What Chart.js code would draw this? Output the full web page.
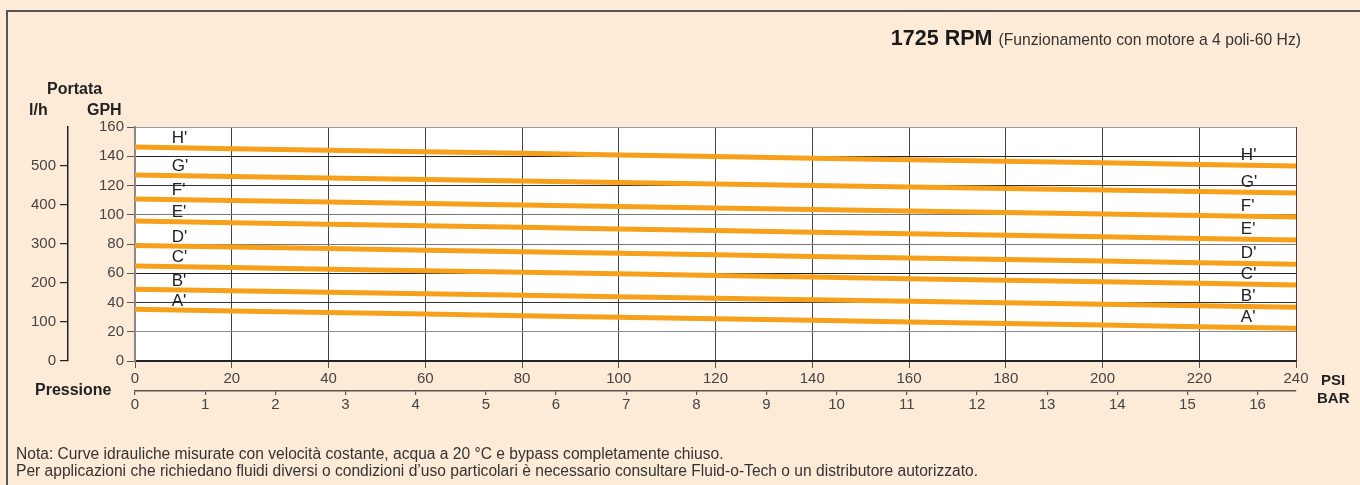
<!DOCTYPE html>
<html>
<head>
<meta charset="utf-8">
<script src="https://cdn.jsdelivr.net/npm/chart.js@4.4.1/dist/chart.umd.min.js"></script>
<style>
  html, body { margin: 0; padding: 0; background: #FDEBD8; }
  #wrap { width: 1360px; height: 485px; }
</style>
</head>
<body>
<div id="wrap"><canvas id="c" width="1360" height="485"></canvas></div>
<script>
// ---- data ----
const psiPoints = [0, 40, 80, 120, 160, 200, 240];
const seriesNames = ["H'", "G'", "F'", "E'", "D'", "C'", "B'", "A'"];
const seriesH = [146.3, 144.1, 142.0, 139.8, 137.6, 135.5, 133.3];
const seriesG = [127.2, 125.2, 123.1, 121.1, 119.0, 117.0, 114.9];
const seriesF = [110.8, 108.8, 106.7, 104.7, 102.6, 100.5, 98.4];
const seriesE = [95.7, 93.5, 91.4, 89.2, 87.0, 84.9, 82.7];
const seriesD = [79.0, 76.9, 74.7, 72.6, 70.4, 68.3, 66.1];
const seriesC = [65.0, 62.8, 60.7, 58.5, 56.3, 54.2, 52.0];
const seriesB = [49.0, 47.0, 44.9, 42.9, 40.8, 38.8, 36.7];
const seriesA = [35.3, 33.2, 31.0, 28.9, 26.7, 24.6, 22.4];
const allSeries = [seriesH, seriesG, seriesF, seriesE, seriesD, seriesC, seriesB, seriesA];
const gphTicks = [0, 20, 40, 60, 80, 100, 120, 140, 160];
const lhTicks = [0, 100, 200, 300, 400, 500];
const psiTicks = [0, 20, 40, 60, 80, 100, 120, 140, 160, 180, 200, 220, 240];
const barTicks = [0, 1, 2, 3, 4, 5, 6, 7, 8, 9, 10, 11, 12, 13, 14, 15, 16];
const PSI_PER_BAR = 14.5038;
const titleBold = "1725 RPM";
const titleRest = "(Funzionamento con motore a 4 poli-60 Hz)";
const note1 = "Nota: Curve idrauliche misurate con velocità costante, acqua a 20 °C e bypass completamente chiuso.";
const note2 = "Per applicazioni che richiedano fluidi diversi o condizioni d’uso particolari è necessario consultare Fluid-o-Tech o un distributore autorizzato.";

const FONT = "'Liberation Sans', Arial, Helvetica, sans-serif";
const BG = '#FDEBD8';
const ORANGE = '#F7A01B';

const datasets = allSeries.map((s, i) => ({
  label: seriesNames[i],
  data: psiPoints.map((p, j) => ({ x: p, y: s[j] })),
  borderColor: ORANGE,
  borderWidth: 5,
  pointRadius: 0,
  tension: 0.2,
  xAxisID: 'x',
  yAxisID: 'y'
}));

const gridColorsY = { 0: '#222', 20: '#8a8a8a', 40: '#333', 60: '#222', 80: '#777', 100: '#777', 120: '#333', 140: '#222', 160: '#999' };

function interp(series, psi) {
  for (let j = 0; j < psiPoints.length - 1; j++) {
    if (psi >= psiPoints[j] && psi <= psiPoints[j + 1]) {
      const t = (psi - psiPoints[j]) / (psiPoints[j + 1] - psiPoints[j]);
      return series[j] + t * (series[j + 1] - series[j]);
    }
  }
  return series[series.length - 1];
}

const decor = {
  id: 'decor',
  beforeDraw(chart) {
    const ctx = chart.ctx;
    const a = chart.chartArea;
    ctx.save();
    ctx.fillStyle = BG;
    ctx.fillRect(0, 0, chart.width, chart.height);
    ctx.strokeStyle = '#555';
    ctx.lineWidth = 2;
    ctx.beginPath();
    ctx.moveTo(7, 485);
    ctx.lineTo(7, 11);
    ctx.lineTo(1360, 11);
    ctx.stroke();
    ctx.fillStyle = '#ffffff';
    ctx.fillRect(a.left, a.top, a.right - a.left, a.bottom - a.top);
    ctx.restore();
  },
  afterDatasetsDraw(chart) {
    const ctx = chart.ctx;
    const xs = chart.scales.x, ys = chart.scales.y;
    ctx.save();
    ctx.fillStyle = '#222';
    ctx.font = '17px ' + FONT;
    ctx.textBaseline = 'middle';
    ctx.textAlign = 'left';
    allSeries.forEach((s, i) => {
      const pl = 7.6, pr = 228.6;
      ctx.fillText(seriesNames[i], xs.getPixelForValue(pl), ys.getPixelForValue(interp(s, pl + 2)) - 9);
      ctx.fillText(seriesNames[i], xs.getPixelForValue(pr), ys.getPixelForValue(interp(s, pr + 2)) - 10);
    });
    ctx.restore();
  },
  afterDraw(chart) {
    const ctx = chart.ctx;
    ctx.save();
    ctx.textBaseline = 'alphabetic';
    ctx.fillStyle = '#333';
    ctx.font = '15.7px ' + FONT;
    ctx.textAlign = 'right';
    ctx.fillText(titleRest, 1301, 45);
    const wRest = ctx.measureText(titleRest).width;
    ctx.fillStyle = '#1a1a1a';
    ctx.font = 'bold 21.5px ' + FONT;
    ctx.fillText(titleBold, 1301 - wRest - 6, 45);
    ctx.fillStyle = '#222';
    ctx.textBaseline = 'middle';
    ctx.font = 'bold 16px ' + FONT;
    ctx.textAlign = 'left';
    ctx.fillText('Portata', 47, 90);
    ctx.fillText('GPH', 87, 111);
    ctx.fillText('l/h', 29, 111);
    ctx.fillText('Pressione', 35, 391);
    ctx.font = 'bold 15px ' + FONT;
    ctx.fillText('PSI', 1321, 381);
    ctx.fillText('BAR', 1317, 399);
    ctx.fillStyle = '#333';
    ctx.font = '15.6px ' + FONT;
    ctx.textBaseline = 'alphabetic';
    ctx.fillText(note1, 16, 459);
    ctx.fillText(note2, 16, 476);
    ctx.restore();
  }
};

new Chart(document.getElementById('c'), {
  type: 'line',
  data: { datasets },
  options: {
    responsive: false,
    animation: false,
    devicePixelRatio: 1,
    layout: { padding: { left: 10, top: 127, right: 64, bottom: 59 } },
    plugins: { legend: { display: false }, tooltip: { enabled: false }, title: { display: false } },
    scales: {
      x: {
        type: 'linear', position: 'bottom', min: 0, max: 240, weight: 0,
        afterBuildTicks: (s) => { s.ticks = psiTicks.map(v => ({ value: v })); },
        ticks: { color: '#444', font: { family: FONT, size: 15 }, padding: 2, maxRotation: 0, autoSkip: false },
        grid: { color: '#444', lineWidth: 1, tickLength: 7, tickColor: '#555' },
        border: { color: '#222', width: 1.5 },
        afterFit: (s) => { s.height = 30; }
      },
      xbar: {
        type: 'linear', position: 'bottom', min: 0, max: 240 / PSI_PER_BAR, weight: 1,
        afterBuildTicks: (s) => { s.ticks = barTicks.map(v => ({ value: v })); },
        ticks: { color: '#444', font: { family: FONT, size: 15 }, padding: 1, maxRotation: 0, autoSkip: false },
        grid: { drawOnChartArea: false, tickLength: 4, color: '#555', lineWidth: 1.2 },
        border: { color: '#555', width: 1.5 },
        afterFit: (s) => { s.height = 35; }
      },
      y: {
        type: 'linear', position: 'left', min: 0, max: 160, weight: 0,
        afterBuildTicks: (s) => { s.ticks = gphTicks.map(v => ({ value: v })); },
        ticks: { color: '#444', font: { family: FONT, size: 15 }, padding: 3, autoSkip: false },
        grid: { color: (c) => gridColorsY[c.tick ? c.tick.value : 0] || '#444', tickColor: '#555', lineWidth: 1, tickLength: 8 },
        border: { color: '#888', width: 2 },
        afterFit: (s) => { s.width = 67; }
      },
      ylh: {
        type: 'linear', position: 'left', min: 0, max: 600, weight: 1,
        afterBuildTicks: (s) => { s.ticks = lhTicks.map(v => ({ value: v })); },
        ticks: { color: '#444', font: { family: FONT, size: 15 }, padding: 4, autoSkip: false },
        grid: { drawOnChartArea: false, color: '#222', lineWidth: 1.2, tickLength: 8 },
        border: { color: '#222', width: 1.5 },
        afterFit: (s) => { s.width = 58; }
      }
    }
  },
  plugins: [decor]
});
</script>
</body>
</html>
